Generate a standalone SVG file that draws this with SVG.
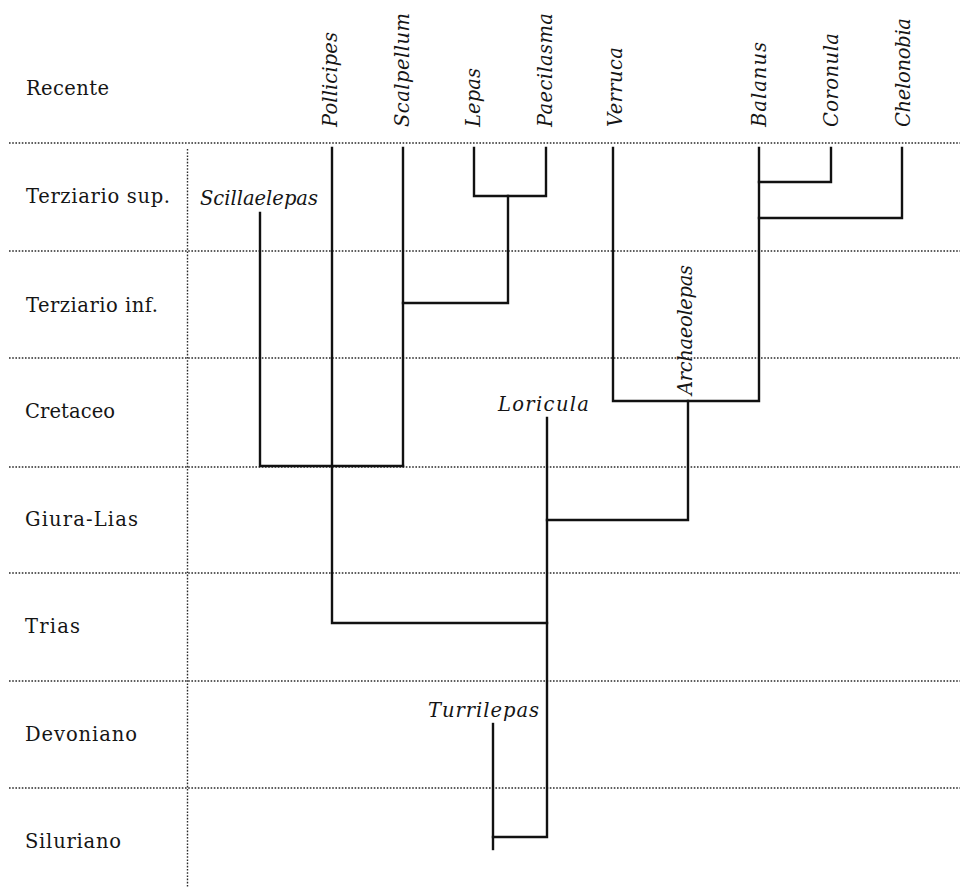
<svg xmlns="http://www.w3.org/2000/svg" width="963" height="888" viewBox="0 0 963 888">
<style>
.bg{fill:#ffffff}
.grid{stroke:#2a2a2a;stroke-width:1.4;stroke-dasharray:1.6 1.6;fill:none}
.br{stroke:#111;stroke-width:2.4;fill:none;stroke-linecap:square}
.era{font-family:"DejaVu Serif","Liberation Serif",serif;font-size:19.5px;fill:#151515}
.gen{font-family:"DejaVu Serif","Liberation Serif",serif;font-style:italic;font-size:19.5px;fill:#151515}
</style>
<rect class="bg" x="0" y="0" width="963" height="888"/>
<g id="grid">
<line class="grid" x1="9" y1="143" x2="960" y2="143"/>
<line class="grid" x1="9" y1="251" x2="960" y2="251"/>
<line class="grid" x1="9" y1="358" x2="960" y2="358"/>
<line class="grid" x1="9" y1="467" x2="960" y2="467"/>
<line class="grid" x1="9" y1="573" x2="960" y2="573"/>
<line class="grid" x1="9" y1="681" x2="960" y2="681"/>
<line class="grid" x1="9" y1="788" x2="960" y2="788"/>
<line class="grid" x1="187.5" y1="149" x2="187.5" y2="888"/>
</g>
<g id="eras">
<text class="era" x="26" y="95" textLength="83">Recente</text>
<text class="era" x="26" y="203" textLength="144">Terziario sup.</text>
<text class="era" x="26" y="312" textLength="132">Terziario inf.</text>
<text class="era" x="25" y="418" textLength="90">Cretaceo</text>
<text class="era" x="25" y="526" textLength="113">Giura-Lias</text>
<text class="era" x="25" y="633" textLength="55">Trias</text>
<text class="era" x="25" y="741" textLength="112">Devoniano</text>
<text class="era" x="25" y="848" textLength="96">Siluriano</text>
</g>
<g id="connectors">
<path class="br" d="M260 213 V466 H403"/>
<path class="br" d="M332 148 V623 H547"/>
<path class="br" d="M403 148 V466"/>
<path class="br" d="M474 148 V196 H546 V148"/>
<path class="br" d="M508 196 V303 H403"/>
<path class="br" d="M613 148 V401 H759 V148"/>
<path class="br" d="M831 148 V182 H759"/>
<path class="br" d="M902 148 V218 H759"/>
<path class="br" d="M688 401 V520 H547"/>
<path class="br" d="M547 418 V837 H493"/>
<path class="br" d="M493 724 V849"/>
</g>
<g id="node-pollicipes"><text class="gen" transform="translate(337,127) rotate(-90)" textLength="95">Pollicipes</text></g>
<g id="node-scalpellum"><text class="gen" transform="translate(409,127) rotate(-90)" textLength="114">Scalpellum</text></g>
<g id="node-lepas"><text class="gen" transform="translate(480,127) rotate(-90)" textLength="59">Lepas</text></g>
<g id="node-paecilasma"><text class="gen" transform="translate(552,127) rotate(-90)" textLength="114">Paecilasma</text></g>
<g id="node-verruca"><text class="gen" transform="translate(622,127) rotate(-90)" textLength="80">Verruca</text></g>
<g id="node-balanus"><text class="gen" transform="translate(766,127) rotate(-90)" textLength="85">Balanus</text></g>
<g id="node-coronula"><text class="gen" transform="translate(838,127) rotate(-90)" textLength="94">Coronula</text></g>
<g id="node-chelonobia"><text class="gen" transform="translate(910,127) rotate(-90)" textLength="109">Chelonobia</text></g>
<g id="node-archaeolepas"><text class="gen" transform="translate(692,395) rotate(-90)" textLength="130">Archaeolepas</text></g>
<g id="node-scillaelepas"><text class="gen" x="200" y="205" textLength="118">Scillaelepas</text></g>
<g id="node-loricula"><text class="gen" x="498" y="411" textLength="91">Loricula</text></g>
<g id="node-turrilepas"><text class="gen" x="428" y="717" textLength="111">Turrilepas</text></g>
</svg>
